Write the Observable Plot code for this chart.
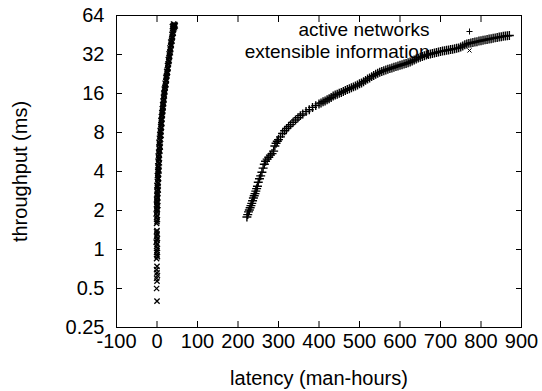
<!DOCTYPE html>
<html>
<head>
<meta charset="utf-8">
<script src="https://cdn.jsdelivr.net/npm/d3@7"></script>
<script src="https://cdn.jsdelivr.net/npm/@observablehq/plot@0.6"></script>
<style>
  html, body { margin: 0; padding: 0; background: #fff; }
  #chart svg { display: block; }
</style>
</head>
<body>
<div id="chart"></div>
<script>
// ---- data ----
const seriesNames = ["active networks", "extensible information"];
const xLabel = "latency (man-hours)";
const yLabel = "throughput (ms)";
const xTicks = [-100, 0, 100, 200, 300, 400, 500, 600, 700, 800, 900];
const yTicks = [0.25, 0.5, 1, 2, 4, 8, 16, 32, 64];

// series 1: "active networks" (+ markers), [latency, throughput]
const activeNetworks = [
  [222,1.78],[224,1.86],[226,1.95],[228,2.02],[230,2.10],[232,2.18],[234,2.27],[236,2.38],
  [238,2.50],[240,2.60],[242,2.70],[244,2.82],[246,2.95],[248,3.08],[250,3.30],[253,3.52],
  [256,3.70],[259,3.95],[262,4.25],[265,4.55],[268,4.80],[272,4.98],[276,5.15],[280,5.35],
  [284,5.50],[288,5.75],[291,6.30],[294,6.60],[297,6.85],[300,7.05],[305,7.40],[310,7.85],
  [315,8.25],[320,8.60],[325,8.90],[330,9.20],[336,9.60],[342,10.0],[348,10.4],[354,10.8],
  [360,11.1],[368,11.6],[376,12.0],[384,12.5],[392,12.9],[400,13.3],[410,13.8],[420,14.3],
  [430,14.9],[440,15.6],[450,16.1],[460,16.6],[470,17.2],[480,17.7],[490,18.3],[500,19.0],
  [510,19.7],[520,20.7],[530,21.6],[540,22.5],[550,23.3],[560,24.0],[570,24.6],[580,25.2],
  [590,25.8],[600,26.4],[610,27.0],[620,27.6],[630,28.5],[640,29.5],[650,30.5],[660,31.3],
  [670,32.0],[680,32.6],[690,33.2],[700,33.8],[710,34.2],[720,34.7],[730,35.2],[740,35.7],
  [750,36.5],[760,38.0],[770,39.0],[780,39.6],[790,40.2],[800,40.9],[810,41.5],[820,42.1],
  [830,42.7],[840,43.3],[850,43.9],[860,44.4],[870,44.9],
  [405,13.5],[415,14.0],[425,14.6],[435,15.3],[445,15.8],[455,16.3],[465,16.9],[475,17.4],
  [485,18.0],[495,18.6],[505,19.3],[515,20.2],[525,21.1],[535,22.0],[545,22.9],[555,23.7],
  [565,24.3],[575,24.9],[585,25.5],[595,26.1],[605,26.7],[615,27.3],[625,28.0],[635,29.0],
  [645,30.0],[655,30.9],[665,31.7],[675,32.3],[685,32.9],[695,33.5],[705,34.0],[715,34.5],
  [725,35.0],[735,35.5],[745,36.0],[755,37.2],[765,38.5],[775,39.3],[785,39.9],[795,40.6],
  [805,41.2],[815,41.8],[825,42.4],[835,43.0],[845,43.6],[855,44.2],[865,44.7]
];

// series 2: "extensible information" (x markers), [latency, throughput]
const extensibleInformation = [
  [0,0.40],[-1,0.50],[0,0.57],[-1,0.60],[1,0.63],[0,0.66],[-1,0.70],[0,0.74],
  [-1,0.85],[1,0.88],[0,0.91],[-1,0.95],[0,0.98],[1,1.02],[-1,1.06],[0,1.10],
  [-2,1.14],[0,1.18],[1,1.22],[-1,1.27],[0,1.32],[-1,1.37],[0,1.40],
  [-1,1.59],[0,1.64],[1,1.70],[-1,1.76],[0,1.82],[-2,1.88],[0,1.94],
  [0,2.00],[-1,2.07],[0,2.14],[-1,2.21],[1,2.29],[0,2.37],[-1,2.45],[1,2.54],
  [0,2.63],[1,2.72],[0,2.82],[2,2.92],[1,3.02],[0,3.13],[2,3.24],[1,3.35],
  [3,3.47],[2,3.59],[1,3.72],[3,3.85],[2,3.99],[4,4.13],[3,4.28],[2,4.43],
  [4,4.59],[3,4.75],[5,4.92],[4,5.09],[3,5.27],[5,5.46],[4,5.65],[6,5.85],
  [5,6.06],[7,6.28],[6,6.50],[5,6.73],[7,6.97],[6,7.22],[8,7.47],[7,7.74],
  [9,8.01],[8,8.30],[10,8.59],[9,8.90],[10,9.21],[11,9.54],[10,9.88],[12,10.2],
  [11,10.6],[13,11.0],[12,11.4],[14,11.8],[13,12.2],[15,12.6],[14,13.1],[16,13.5],
  [15,14.0],[17,14.5],[16,15.0],[18,15.6],[17,16.1],[19,16.7],[18,17.3],[20,17.9],
  [21,18.5],[20,19.2],[22,19.9],[23,20.6],[22,21.3],[24,22.1],[25,22.9],[24,23.7],
  [26,24.5],[27,25.4],[26,26.3],[28,27.2],[29,28.2],[28,29.2],[30,30.2],[31,31.3],
  [30,32.4],[32,33.5],[33,34.7],[32,35.9],[34,37.2],[35,38.5],[34,39.9],[36,41.3],
  [37,42.7],[38,44.2],[37,45.8],[39,47.4],[40,49.0],[39,50.8],[41,52.0],[43,53.0],
  [42,54.0],[44,54.5],[40,53.5],
  [1,2.03],[2,2.18],[0,2.33],[2,2.50],[1,2.68],[3,2.87],[2,3.07],[3,3.29],
  [4,3.53],[3,3.78],[5,4.05],[4,4.35],[6,4.67],[5,5.00],[6,5.36],[7,5.75],
  [8,6.17],[7,6.61],[9,7.10],[10,7.60],[9,8.15],[11,8.75],[12,9.37],[11,10.0],
  [13,10.8],[14,11.6],[15,12.4],[16,13.3],[17,14.2],[18,15.3],[19,16.4],[20,17.6],
  [22,18.8],[23,20.2],[24,21.7],[26,23.3],[27,25.0],[28,26.8],[30,28.7],[31,30.8],
  [33,33.0],[34,35.3],[35,37.8],[37,40.6],[38,43.5],[40,46.6],[41,49.9],[43,51.5],
  [45,53.2],[38,52.5],[41,55.0]
];

// ---- chart ----
const FONT = "'Liberation Sans', Arial, Helvetica, sans-serif";
const FS = 20;
const KEY_FS = 19;
const fmt = d => String(d);

const chart = Plot.plot({
  width: 542,
  height: 391,
  marginLeft: 116,
  marginRight: 21,
  marginTop: 15,
  marginBottom: 64,
  style: { fontFamily: FONT, fontSize: FS + "px", background: "white", color: "black", overflow: "visible" },
  x: { domain: [-100, 900] },
  y: { type: "log", base: 2, domain: [0.25, 64] },
  marks: [
    // tick labels
    Plot.axisX(xTicks, { anchor: "bottom", tickSize: 0, tickPadding: 6, tickFormat: fmt, label: null, fontSize: FS }),
    Plot.axisY(yTicks, { anchor: "left", tickSize: 0, tickPadding: 12, tickFormat: fmt, label: null, fontSize: FS }),
    // inward tick marks on all four sides
    Plot.axisX(xTicks, { anchor: "bottom", tickSize: -6, fill: "none", label: null }),
    Plot.axisX(xTicks, { anchor: "top", tickSize: -6, fill: "none", label: null }),
    Plot.axisY(yTicks, { anchor: "left", tickSize: -6, fill: "none", label: null }),
    Plot.axisY(yTicks, { anchor: "right", tickSize: -6, fill: "none", label: null }),
    Plot.frame({ stroke: "black" }),
    // axis titles
    Plot.text([xLabel], { frameAnchor: "bottom", dy: 57, fontSize: FS, fill: "black" }),
    Plot.text([yLabel], { frameAnchor: "left", dx: -96, rotate: -90, textAnchor: "middle", lineAnchor: "middle", fontSize: FS, fill: "black" }),
    // data
    Plot.dot(activeNetworks, { x: d => d[0], y: d => d[1], symbol: "plus", r: 3.0, stroke: "black", strokeWidth: 1.4 }),
    Plot.dot(extensibleInformation, { x: d => d[0], y: d => d[1], symbol: "times", r: 2.5, stroke: "black", strokeWidth: 1.3 }),
    // key
    Plot.text([seriesNames[0]], { frameAnchor: "top-right", textAnchor: "end", lineAnchor: "middle", dx: -92, dy: 14, fontSize: KEY_FS, fill: "black" }),
    Plot.text([seriesNames[1]], { frameAnchor: "top-right", textAnchor: "end", lineAnchor: "middle", dx: -92, dy: 36, fontSize: KEY_FS, fill: "black" }),
    Plot.dot([seriesNames[0]], { frameAnchor: "top-right", dx: -52, dy: 16, symbol: "plus", r: 2.1, stroke: "black", strokeWidth: 1 }),
    Plot.dot([seriesNames[1]], { frameAnchor: "top-right", dx: -52, dy: 35, symbol: "times", r: 2.0, stroke: "black", strokeWidth: 1 })
  ]
});
document.getElementById("chart").appendChild(chart);
</script>
</body>
</html>
